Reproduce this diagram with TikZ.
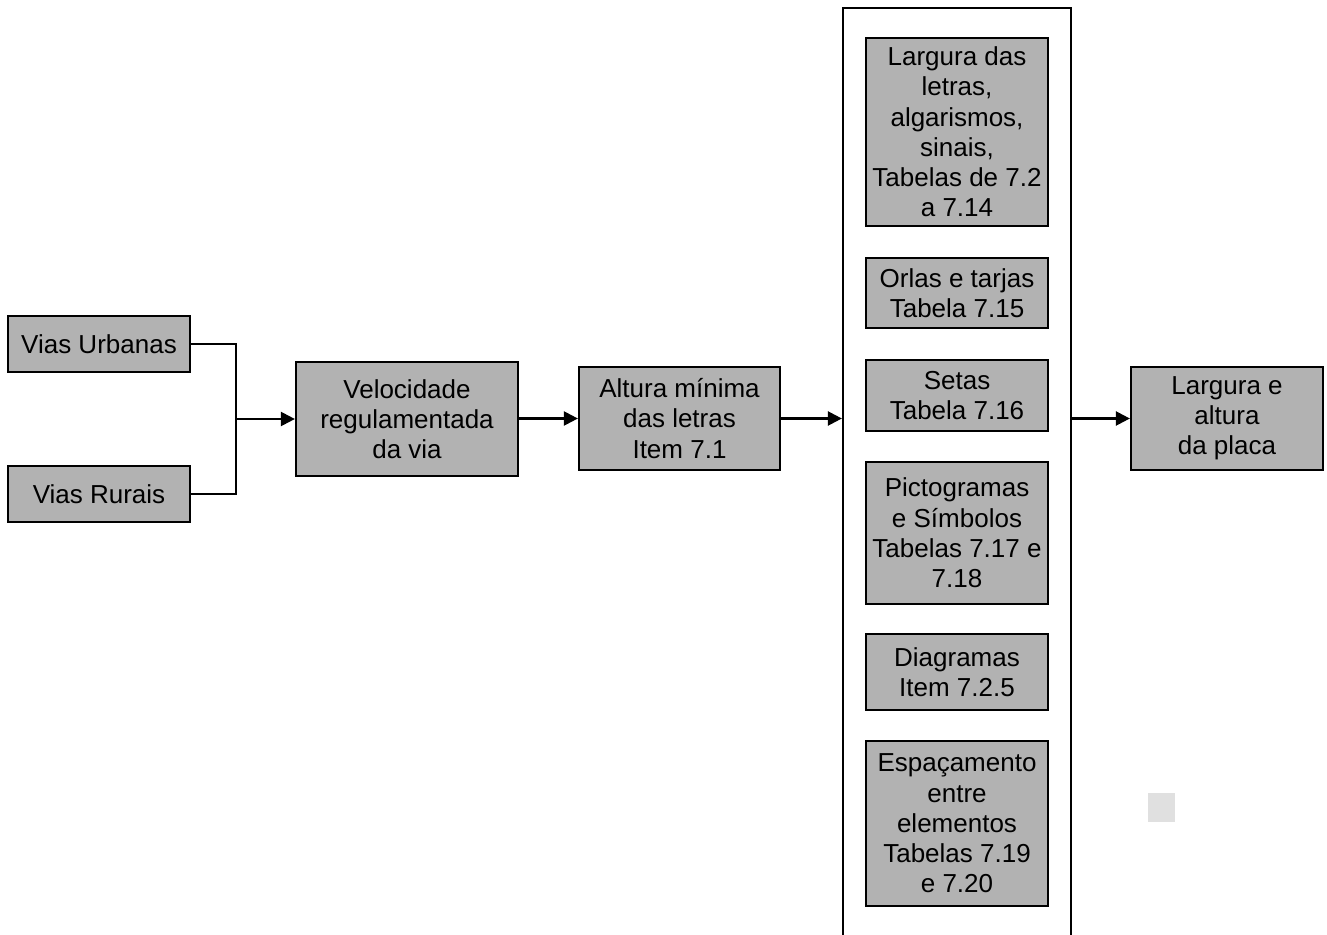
\documentclass[tikz,border=0pt]{standalone}
\usepackage{fontspec}
\setmainfont{Liberation Sans}
\usetikzlibrary{arrows.meta}

\begin{document}
\begin{tikzpicture}[x=0.02cm,y=-0.02cm,
  caixa/.style={draw,line width=1.3pt,fill=black!30,align=center,inner sep=0pt,
    font=\fontsize{14.8}{17.2}\selectfont},
  seta/.style={line width=1.3pt,-{Triangle[length=8pt,width=8pt]}},
  liga/.style={line width=1.3pt}]

\useasboundingbox (0,0) rectangle (1327,935);

% entradas
\node[caixa,minimum width=3.64cm,minimum height=1.12cm] (urb) at (99,344) {Vias Urbanas};
\node[caixa,minimum width=3.64cm,minimum height=1.12cm] (rur) at (99,494) {Vias Rurais};
\coordinate (j) at (236,419);

\node[caixa,minimum width=4.44cm,minimum height=2.28cm] (vel) at (407,419) {Velocidade\\regulamentada\\da via};
\node[caixa,minimum width=4.02cm,minimum height=2.06cm] (alt) at (679.5,418.5) {Altura mínima\\das letras\\Item 7.1};

% grupo de tabelas
\node[draw,line width=1.3pt,minimum width=4.56cm,minimum height=19.04cm,inner sep=0pt] (grupo) at (957,484) {};

\node[caixa,minimum width=3.64cm,minimum height=3.76cm] (larg) at (957,132) {Largura das\\letras,\\algarismos,\\sinais,\\Tabelas de 7.2\\a 7.14};
\node[caixa,minimum width=3.64cm,minimum height=1.40cm] (orla) at (957,293) {Orlas e tarjas\\Tabela 7.15};
\node[caixa,minimum width=3.64cm,minimum height=1.42cm] (setas) at (957,395.5) {Setas\\Tabela 7.16};
\node[caixa,minimum width=3.64cm,minimum height=2.84cm] (picto) at (957,533) {Pictogramas\\e Símbolos\\Tabelas 7.17 e\\7.18};
\node[caixa,minimum width=3.64cm,minimum height=1.52cm] (diag) at (957,672) {Diagramas\\Item 7.2.5};
\node[caixa,minimum width=3.64cm,minimum height=3.30cm] (esp) at (957,823.5) {Espaçamento\\entre\\elementos\\Tabelas 7.19\\e 7.20};

\node[caixa,minimum width=3.84cm,minimum height=2.06cm] (placa) at (1227,418.5) {Largura e\\altura\\da placa};

\fill[black!12] (1148,793) rectangle (1175,822);

% ligacoes
\draw[liga] (urb.east) -| (j);
\draw[liga] (rur.east) -| (j);
\draw[seta] (j) -- (vel.west);
\draw[seta] (vel.east |- alt.west) -- (alt.west);
\draw[seta] (alt.east) -- (alt.east -| grupo.west);
\draw[seta] (placa.west -| grupo.east) -- (placa.west);

\end{tikzpicture}
\end{document}
